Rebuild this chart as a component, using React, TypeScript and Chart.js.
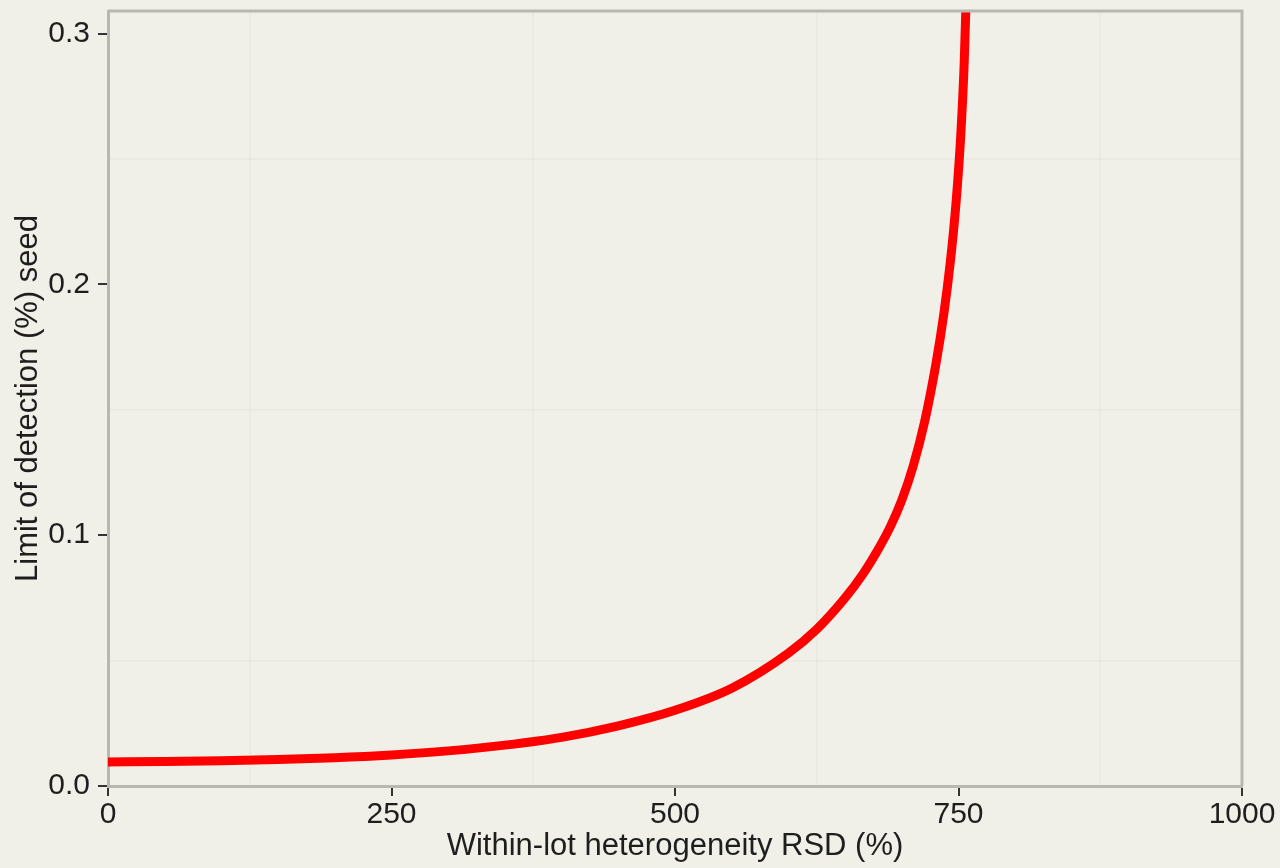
import React, { useEffect, useRef } from "react";
import { Chart, registerables } from "chart.js";

Chart.register(...registerables);

// Within-lot heterogeneity RSD (%)
const rsdValues: number[] = [
  0, 50, 100, 150, 200, 250, 300, 350, 400, 450, 500, 550, 600, 625, 650, 665,
  680, 690, 700, 710, 720, 730, 737, 743, 748, 752, 755, 757,
];
// Limit of detection (%) seed
const lodValues: number[] = [
  0.0096, 0.0098, 0.0101, 0.0106, 0.0113, 0.0124, 0.014, 0.0163, 0.0194,
  0.024, 0.0302, 0.039, 0.053, 0.0625, 0.075, 0.084, 0.095, 0.1035, 0.114,
  0.1275, 0.145, 0.168, 0.188, 0.2098, 0.2335, 0.2595, 0.288, 0.318,
];

const xTickValues: number[] = [0, 250, 500, 750, 1000];
const yTickLabels: string[] = ["0.0", "0.1", "0.2", "0.3"];

const xTitle = "Within-lot heterogeneity RSD (%)";
const yTitle = "Limit of detection (%) seed";

const BG = "#f0f0e9";
const AXIS = "#b8b8b0";
const GRID = "rgba(0,0,0,0.022)";
const TICK = "#333333";
const TEXT = "#1e1e1e";
const FONT = "'Liberation Sans', Arial, sans-serif";

const isMajorX = (v: number) => xTickValues.some((t) => Math.abs(t - v) < 1e-6);
const isMajorY = (v: number) =>
  yTickLabels.some((t) => Math.abs(parseFloat(t) - v) < 1e-6);

const bgPlugin = {
  id: "bg",
  beforeDraw(chart: any) {
    const { ctx, width, height } = chart;
    ctx.save();
    ctx.fillStyle = BG;
    ctx.fillRect(0, 0, width, height);
    ctx.restore();
  },
  afterDraw(chart: any) {
    const { ctx, chartArea } = chart;
    ctx.save();
    ctx.strokeStyle = AXIS;
    ctx.lineWidth = 3;
    ctx.beginPath();
    ctx.moveTo(chartArea.left, chartArea.top);
    ctx.lineTo(chartArea.right, chartArea.top);
    ctx.lineTo(chartArea.right, chartArea.bottom);
    ctx.stroke();
    ctx.restore();
  },
};

export default function App() {
  const ref = useRef<HTMLCanvasElement | null>(null);

  useEffect(() => {
    if (!ref.current) return;
    const chart = new Chart(ref.current, {
      type: "line",
      data: {
        datasets: [
          {
            data: rsdValues.map((x, i) => ({ x, y: lodValues[i] })),
            borderColor: "#ff0000",
            borderWidth: 9,
            pointRadius: 0,
            fill: false,
            cubicInterpolationMode: "monotone",
            clip: 0,
          } as any,
        ],
      },
      options: {
        animation: false,
        responsive: false,
        maintainAspectRatio: false,
        layout: { padding: { top: 11, right: 38, bottom: 0, left: 0 } },
        plugins: {
          legend: { display: false },
          tooltip: { enabled: false },
          title: { display: false },
        },
        scales: {
          x: {
            type: "linear",
            min: 0,
            max: 1000,
            afterFit: (s: any) => {
              s.height = 82;
              s.paddingLeft = 0;
              s.paddingRight = 0;
            },
            ticks: {
              stepSize: 125,
              autoSkip: false,
              maxRotation: 0,
              padding: 1,
              color: TEXT,
              font: { family: FONT, size: 30 },
              callback: (v: any) => (isMajorX(Number(v)) ? String(v) : ""),
            },
            grid: {
              lineWidth: 2,
              tickLength: 10,
              tickWidth: 2,
              color: (c: any) =>
                c.tick && !isMajorX(c.tick.value) ? GRID : "transparent",
              tickColor: (c: any) =>
                c.tick && isMajorX(c.tick.value) ? TICK : "transparent",
            },
            border: { display: true, color: AXIS, width: 3 },
            title: {
              display: true,
              text: xTitle,
              color: TEXT,
              font: { family: FONT, size: 31 },
              padding: { top: 0, bottom: 3 },
            },
          },
          y: {
            type: "linear",
            min: 0,
            max: 0.309,
            afterFit: (s: any) => {
              s.width = 108;
              s.paddingTop = 0;
              s.paddingBottom = 0;
            },
            ticks: {
              stepSize: 0.05,
              includeBounds: false,
              padding: 8,
              color: TEXT,
              font: { family: FONT, size: 30 },
              callback: (v: any) => {
                const n = Number(v);
                const idx = yTickLabels.findIndex(
                  (t) => Math.abs(parseFloat(t) - n) < 1e-6
                );
                return idx >= 0 ? yTickLabels[idx] : "";
              },
            },
            grid: {
              lineWidth: 2,
              tickLength: 10,
              tickWidth: 2,
              color: (c: any) =>
                c.tick && !isMajorY(c.tick.value) ? GRID : "transparent",
              tickColor: (c: any) =>
                c.tick && isMajorY(c.tick.value) ? TICK : "transparent",
            },
            border: { display: true, color: AXIS, width: 3 },
            title: {
              display: true,
              text: yTitle,
              color: TEXT,
              font: { family: FONT, size: 31 },
              padding: { top: 10, bottom: 0 },
            },
          },
        },
      },
      plugins: [bgPlugin],
    });
    return () => chart.destroy();
  }, []);

  return (
    <div
      style={{
        position: "fixed",
        left: 0,
        top: 0,
        width: 1280,
        height: 868,
        background: BG,
      }}
    >
      <canvas ref={ref} width={1280} height={868} />
    </div>
  );
}
